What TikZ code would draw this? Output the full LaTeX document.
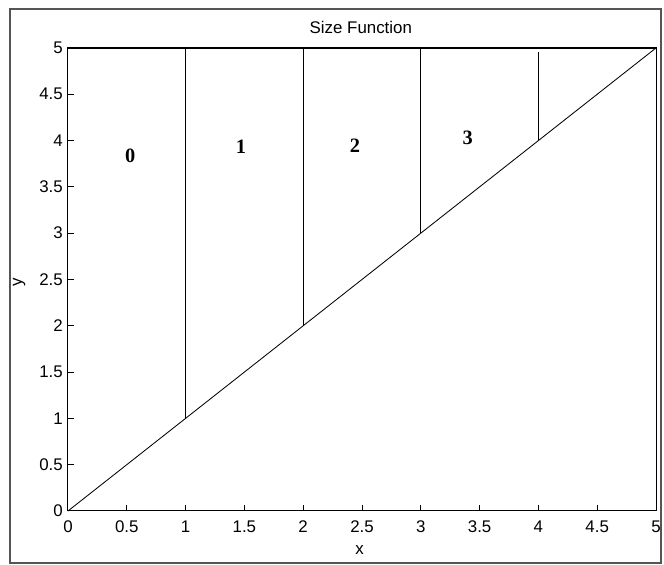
\documentclass[tikz,border=0pt]{standalone}
\usepackage{fontspec}
\setmainfont{Liberation Sans}
\newfontfamily\regionfont{Liberation Serif}
\usepackage{tikz}
\usetikzlibrary{positioning}
\definecolor{framegrey}{RGB}{85,85,85}

\begin{document}
\begin{tikzpicture}[
    x=2.94cm, y=2.315cm,
    axisline/.style={black, line width=0.7pt},
    dataline/.style={black, line width=0.6pt},
    ticklab/.style={font=\fontsize{12}{14}\selectfont, inner sep=1pt},
    region/.style={font=\regionfont\bfseries\fontsize{14.5}{16}\selectfont}
]
    % page and figure frame
    \useasboundingbox (-0.578,-0.583) rectangle (5.068,5.518);
    \draw[framegrey, line width=1pt] (-0.493,-0.562) rectangle (5.043,5.421);
    % axes box
    \draw[axisline] (0,0) rectangle (5,5);
    % ticks and tick labels
    \foreach \v/\t in {0/0, 0.5/0.5, 1/1, 1.5/1.5, 2/2, 2.5/2.5, 3/3, 3.5/3.5, 4/4, 4.5/4.5, 5/5} {
        \draw[axisline] (\v,0) -- (\v,0.065);
        \draw[axisline] (0,\v) -- (0.051,\v);
        \node[ticklab] (xt\t) at (\v,-0.173) {\t};
        \node[ticklab, anchor=east] (yt\t) at (-0.03,\v) {\t};
    }
    % diagonal and vertical cuts
    \draw[dataline] (0,0) -- (5,5);
    \draw[dataline] (0,5) -- (5,5);
    \draw[dataline] (1,1) -- (1,5);
    \draw[dataline] (2,2) -- (2,5);
    \draw[dataline] (3,3) -- (3,5);
    \draw[dataline] (4,4) -- (4,4.96);
    % region labels
    \node[region] (r0) at (0.53,3.84) {0};
    \node[region] (r1) at (1.47,3.93) {1};
    \node[region] (r2) at (2.44,3.94) {2};
    \node[region] (r3) at (3.40,4.03) {3};
    % title and axis labels
    \node[ticklab] (title) at (2.49,5.22) {Size Function};
    \node[ticklab] (xlab) at (2.48,-0.42) {x};
    \node[ticklab, rotate=90] (ylab) at (-0.415,2.47) {y};
\end{tikzpicture}
\end{document}
